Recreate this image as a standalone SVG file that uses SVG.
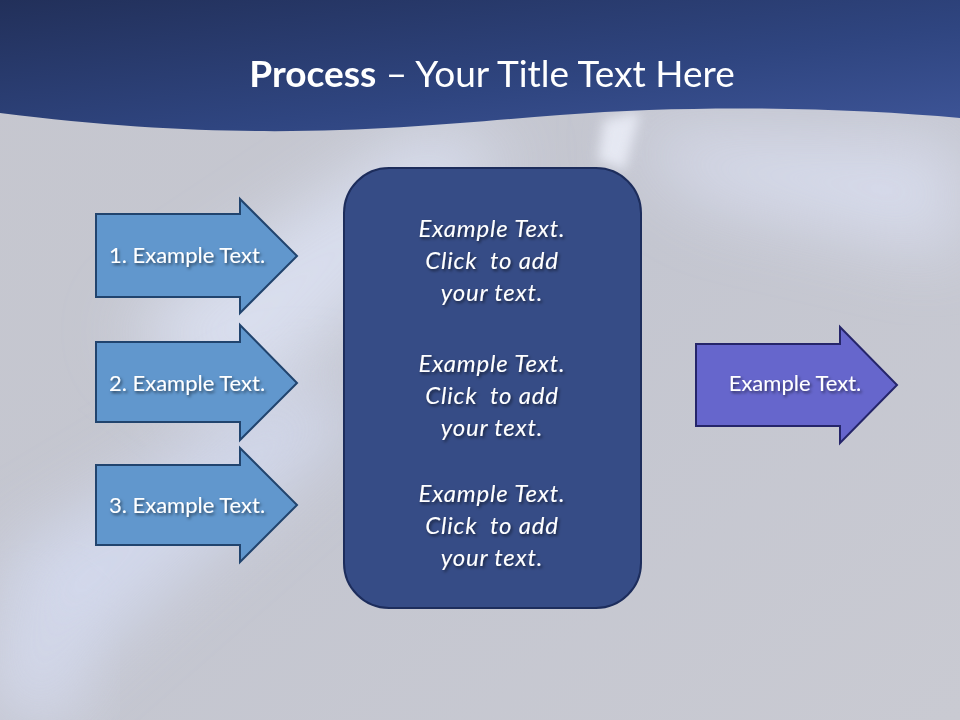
<svg xmlns="http://www.w3.org/2000/svg" width="960" height="720" viewBox="0 0 960 720">
<defs>
<linearGradient id="bg" x1="0" y1="0" x2="1" y2="1">
<stop offset="0" stop-color="#c6c7cf"/>
<stop offset="0.5" stop-color="#c4c6d0"/>
<stop offset="1" stop-color="#c9cad2"/>
</linearGradient>
<linearGradient id="hdr" x1="0" y1="0" x2="1" y2="1">
<stop offset="0" stop-color="#22305a"/>
<stop offset="0.6" stop-color="#2f4580"/>
<stop offset="1" stop-color="#3e5598"/>
</linearGradient>
<filter id="blur" x="-50%" y="-50%" width="200%" height="200%"><feGaussianBlur stdDeviation="35"/></filter>
<filter id="blur2" x="-50%" y="-50%" width="200%" height="200%"><feGaussianBlur stdDeviation="6"/></filter>
<filter id="ts" x="-20%" y="-20%" width="140%" height="160%"><feDropShadow dx="1.5" dy="2" stdDeviation="1.5" flood-color="#000" flood-opacity="0.55"/></filter>
<style>
.arr{fill:#6197cd;stroke:#21446e;stroke-width:2}
.arr2{fill:#6666cc;stroke:#25256a;stroke-width:2}
.box{fill:#364c86;stroke:#1d2d5c;stroke-width:2}
.lt{font-family:Lato,"Open Sans",sans-serif;font-size:22px;fill:#fff;text-anchor:middle;filter:url(#ts)}
.bt{font-family:Lato,"Open Sans",sans-serif;font-size:24px;letter-spacing:0.8px;font-style:italic;fill:#fff;text-anchor:middle;filter:url(#ts);white-space:pre}
.ti{font-family:Lato,"Open Sans",sans-serif;font-size:37px;fill:#fff;text-anchor:middle}
</style>
</defs>
<rect width="960" height="720" fill="url(#bg)"/>
<g opacity="0.8">
<path d="M120,330 L420,130 L520,150 L240,420 Z" fill="#dfe5f7" filter="url(#blur)"/>
<path d="M0,560 L300,380 L360,420 L40,700 Z" fill="#d6ddf3" filter="url(#blur)"/>
<path d="M620,130 L960,140 L960,260 L700,200 Z" fill="#dbe0f2" filter="url(#blur)"/>
<path d="M0,620 L60,600 L80,720 L0,720 Z" fill="#d8def3" filter="url(#blur)"/>
<path d="M604,120 L640,112 L625,170 L598,160 Z" fill="#eef1fb" filter="url(#blur2)"/>
</g>
<path d="M0,0 H960 V118 C850,108 700,104 560,115 C420,126 260,146 0,113 Z" fill="url(#hdr)"/>
<text class="ti" x="492" y="87"><tspan font-weight="bold">Process</tspan> – Your Title Text Here</text>
<g id="arrow1">
<path class="arr" d="M96,214 H240 V199 L297,256 L240,313 V297 H96 Z"/>
<text class="lt" x="187" y="263">1. Example Text.</text>
</g>
<g id="arrow2">
<path class="arr" d="M96,342 H240 V325 L297,383 L240,440 V422 H96 Z"/>
<text class="lt" x="187" y="391">2. Example Text.</text>
</g>
<g id="arrow3">
<path class="arr" d="M96,465 H240 V448 L297,505 L240,562 V545 H96 Z"/>
<text class="lt" x="187" y="513">3. Example Text.</text>
</g>
<g id="center-box">
<rect class="box" x="344" y="168" width="297" height="440" rx="45" ry="45"/>
<text class="bt" x="492" y="237">Example Text.</text>
<text class="bt" x="492" y="269">Click  to add</text>
<text class="bt" x="492" y="301">your text.</text>
<text class="bt" x="492" y="372">Example Text.</text>
<text class="bt" x="492" y="404">Click  to add</text>
<text class="bt" x="492" y="436">your text.</text>
<text class="bt" x="492" y="502">Example Text.</text>
<text class="bt" x="492" y="534">Click  to add</text>
<text class="bt" x="492" y="566">your text.</text>
</g>
<g id="arrow-out">
<path class="arr2" d="M696,344 H840 V327 L897,385 L840,443 V426 H696 Z"/>
<text class="lt" x="795" y="391">Example Text.</text>
</g>
<g id="connectors"/>
</svg>
